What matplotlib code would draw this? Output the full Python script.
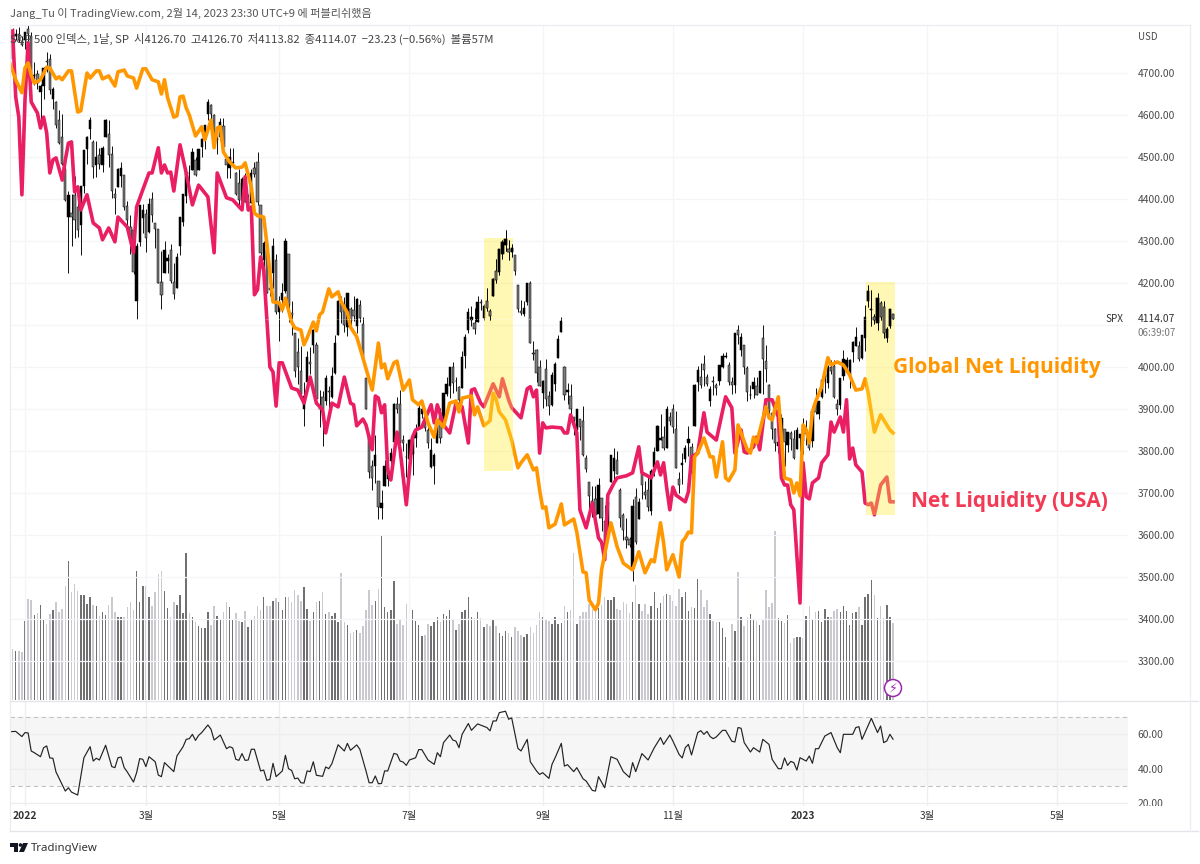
import matplotlib
matplotlib.use("Agg")
import matplotlib.pyplot as plt
from matplotlib.patches import Rectangle, Circle, Polygon
from matplotlib.transforms import Bbox, TransformedBbox
from matplotlib.ticker import FixedLocator, FixedFormatter

plt.rcParams['font.family'] = ['Noto Sans CJK KR', 'DejaVu Sans']

opens = [4733,4795,4788,4794,4775,
4778,4804,4788,4694,4698,4655,4670,4729,4734,4638,4632,4588,4548,4472,4357,4366,4409,4380,4337,4432,
4519,4566,4536,4482,4505,4481,4547,4554,4507,4412,4429,4455,4457,4384,4333,4325,4156,4298,4354,
4364,4322,4401,4343,4328,4202,4224,4253,4279,4203,4189,4289,4345,4407,4462,4470,4494,4470,4523,4541,4603,4624,4599,
4540,4548,4573,4495,4474,4486,4462,4437,4395,4449,4385,4390,4473,4489,4385,4255,4278,4187,4223,4254,
4130,4159,4181,4270,4128,4082,4035,3991,3901,3964,4013,4052,4052,3900,3928,3920,3943,3929,3985,4077,4152,
4149,4096,4137,4135,4097,4148,4102,3974,3838,3764,3765,3729,3665,3716,3734,3775,3821,3913,3913,3826,3786,
3782,3792,3832,3858,3889,3880,3851,3762,3764,3818,3884,3860,3936,3955,3999,3966,3953,3951,4027,4088,
4113,4105,4108,4155,4116,4156,4133,4170,4228,4225,4269,4291,4280,4274,4266,4195,4133,4126,4154,4199,4034,4041,4000,
3937,3995,3930,3909,3960,4022,4084,3999,3941,3932,3880,3849,3876,3871,3783,3727,3682,3686,3651,3687,3633,
3609,3726,3753,3778,3707,3647,3596,3590,3520,3690,3638,3746,3703,3707,3657,3762,3799,3825,3834,3808,3881,
3901,3853,3733,3767,3780,3818,3810,3860,3964,3977,4007,3977,3920,3966,3956,3966,4000,4024,4005,3965,3958,
4087,4041,4052,3997,3933,3947,3954,3939,4070,4015,3958,3891,3853,3811,3839,3853,3815,3844,3829,3805,3830,
3853,3840,3840,3823,3911,3889,3928,3977,3961,3999,4002,3911,3909,3979,4001,3982,4036,4050,4050,4021,
4070,4158,4136,4120,4105,4153,4144,4069,4097,4127]
highs = [4791,4807,4805,4809,4787,
4797,4819,4798,4726,4708,4673,4715,4749,4745,4666,4633,4611,4603,4495,4418,4411,4454,4429,4432,4516,
4550,4596,4540,4539,4521,4526,4590,4589,4527,4426,4473,4489,4457,4395,4363,4340,4295,4385,4389,
4375,4402,4417,4343,4329,4277,4299,4269,4292,4247,4272,4357,4413,4465,4481,4522,4501,4520,4546,4576,4637,4627,4603,
4549,4593,4593,4503,4521,4521,4464,4471,4453,4461,4411,4471,4489,4513,4386,4299,4278,4241,4308,4269,
4170,4200,4308,4270,4158,4082,4068,4050,3965,4039,4047,4090,4060,3946,3943,3981,3955,3999,4076,4159,4168,
4167,4177,4143,4169,4165,4160,4119,3974,3838,3779,3837,3729,3708,3779,3785,3808,3914,3928,3945,3837,3818,
3829,3832,3864,3910,3919,3880,3874,3832,3796,3864,3903,3939,3975,3999,4013,3975,3954,4039,4079,4141,
4145,4140,4168,4161,4151,4187,4138,4212,4258,4281,4302,4326,4303,4292,4266,4195,4159,4156,4200,4204,4062,4044,4016,
3970,4019,3942,3987,4011,4077,4120,4002,3961,3959,3880,3900,3876,3907,3790,3727,3716,3717,3736,3687,3671,
3699,3791,3807,3799,3711,3653,3641,3595,3685,3712,3689,3762,3729,3737,3757,3810,3862,3887,3859,3906,3893,
3911,3895,3750,3796,3814,3859,3818,3959,4002,4009,4029,3984,3955,3979,3962,4005,4034,4035,4012,3976,4080,
4101,4080,4053,4002,3957,3975,3977,3991,4101,4053,3959,3891,3854,3840,3889,3853,3846,3847,3849,3858,3840,
3879,3873,3840,3906,3950,3919,3970,3997,4004,4016,4016,3923,3973,4040,4024,4020,4061,4095,4063,4077,
4148,4196,4183,4127,4176,4157,4157,4095,4138,4127]
lows = [4733,4780,4778,4775,4765,
4758,4774,4699,4671,4663,4582,4638,4703,4651,4615,4568,4531,4480,4395,4223,4288,4306,4309,4266,4415,
4484,4544,4451,4452,4471,4465,4547,4477,4402,4365,4429,4429,4374,4328,4268,4221,4115,4287,4318,
4274,4320,4345,4284,4199,4139,4224,4224,4200,4162,4188,4267,4335,4391,4424,4470,4455,4469,4501,4518,4589,4589,4530,
4507,4540,4514,4450,4451,4477,4409,4381,4392,4392,4371,4390,4452,4385,4267,4200,4175,4170,4189,4125,
4063,4132,4177,4107,4077,3976,3959,3929,3859,3964,3983,4034,3912,3857,3811,3909,3875,3925,3984,4077,4104,
4083,4074,4098,4110,4080,4108,4017,3900,3735,3706,3723,3639,3637,3716,3717,3747,3821,3891,3820,3800,3738,
3751,3742,3810,3858,3878,3847,3807,3759,3722,3818,3818,3860,3930,3927,3939,3944,3911,3951,3998,4080,
4097,4079,4108,4135,4113,4133,4112,4170,4200,4220,4257,4277,4254,4262,4218,4130,4124,4122,4147,4057,4017,3965,3954,
3903,3907,3886,3906,3944,4022,4084,3921,3912,3888,3838,3840,3827,3789,3749,3648,3644,3623,3641,3610,3584,
3604,3726,3723,3745,3620,3588,3568,3571,3491,3578,3638,3686,3685,3656,3647,3741,3799,3825,3803,3808,3863,
3843,3759,3699,3722,3773,3787,3745,3860,3944,3949,3954,3955,3907,3933,3933,3956,3998,4021,3956,3936,3939,
4054,4026,3984,3918,3923,3925,3933,3939,3935,3965,3879,3828,3800,3795,3839,3765,3798,3802,3781,3805,3801,
3794,3815,3803,3809,3889,3877,3925,3938,3951,3984,3926,3886,3900,3970,3990,3949,4013,4049,4015,4020,
4038,4143,4097,4103,4088,4112,4070,4060,4092,4114]
closes = [4791,4786,4793,4779,4766,
4797,4794,4701,4696,4677,4670,4713,4726,4659,4663,4577,4533,4483,4398,4410,4356,4350,4327,4432,4516,
4547,4589,4477,4501,4484,4522,4587,4504,4419,4402,4471,4475,4380,4349,4305,4226,4289,4385,4374,
4306,4387,4363,4329,4201,4171,4278,4260,4204,4173,4262,4358,4412,4463,4461,4512,4456,4520,4543,4576,4632,4602,4530,
4546,4583,4525,4481,4500,4488,4413,4397,4447,4393,4392,4462,4459,4394,4272,4296,4175,4184,4288,4132,
4155,4175,4300,4147,4123,3991,4001,3935,3930,4024,4008,4089,3924,3901,3901,3974,3941,3979,4058,4158,4132,
4101,4177,4109,4121,4161,4116,4018,3901,3750,3735,3790,3667,3675,3765,3760,3796,3912,3900,3822,3819,3785,
3825,3831,3845,3903,3899,3854,3819,3802,3790,3863,3831,3937,3960,3999,3962,3967,3921,4024,4072,4130,
4119,4091,4155,4152,4145,4140,4122,4210,4207,4280,4297,4305,4274,4284,4228,4138,4129,4141,4199,4058,4031,3986,3955,
3967,3924,3908,3980,4006,4067,4110,3933,3946,3901,3873,3900,3856,3790,3758,3693,3655,3647,3719,3640,3586,
3678,3791,3783,3745,3640,3612,3589,3577,3670,3583,3678,3720,3695,3666,3753,3797,3859,3831,3807,3901,3872,
3856,3760,3720,3771,3807,3828,3749,3956,3993,3957,3992,3959,3947,3965,3950,4004,4027,4026,3964,3958,4080,
4077,4072,3999,3941,3934,3964,3934,3991,4020,3995,3896,3852,3818,3822,3878,3822,3845,3829,3783,3849,3840,
3824,3853,3808,3895,3892,3919,3970,3983,3999,3991,3929,3899,3973,4020,4017,4016,4060,4071,4018,4077,
4119,4180,4136,4111,4164,4118,4082,4090,4137,4114]
volumes = [54,51,49,49,48,79,101,100,85,87,95,81,76,86,90,98,88,91,114,139,108,116,109,105,105,96,103,95,94,84,88,85,95,103,88,83,83,83,93,98,90,129,98,114,114,103,94,108,126,129,109,92,83,98,95,105,87,147,87,83,78,74,72,72,88,75,94,84,81,88,98,93,81,87,79,78,89,73,80,84,94,90,103,94,94,99,102,98,90,103,103,98,110,105,99,113,91,79,88,98,99,108,86,88,84,87,78,127,78,75,67,68,70,67,74,90,110,95,99,111,164,93,88,90,119,76,80,75,96,78,90,79,75,64,65,76,74,78,83,78,86,84,90,
81,70,76,88,90,103,83,82,88,82,73,76,74,81,74,67,64,69,67,63,73,69,65,63,66,73,67,75,88,83,81,79,76,83,76,77,94,88,90,147,76,84,88,88,96,91,93,92,95,103,100,100,103,91,90,98,96,87,98,115,96,89,96,86,94,108,92,97,104,106,105,99,94,111,103,108,89,93,92,121,110,93,100,86,79,78,78,72,63,33,76,69,128,83,74,83,86,80,79,75,81,110,93,97,169,82,79,77,85,57,62,63,63,62,84,94,81,88,89,78,91,83,83,89,91,88,94,89,75,87,88,93,75,103,106,120,105,82,94,82,95,83,77]

orange_x = [0,2,4,5,6,7,8,10,12,13,15,16,17,19,20,22,23,25,26,28,29,30,32,34,35,37,38,40,41,43,44,46,48,49,50,51,53,54,55,56,57,58,60,62,63,65,66,67,68,69,71,73,75,76,78,79,80,82,83,84,85,87,88,89,91,92,94,95,96,98,99,100,101,103,104,106,107,109,110,112,114,117,119,120,121,122,124,125,127,129,130,132,133,135,137,138,140,142,144,145,146,149,150,151,153,155,156,157,158,160,162,164,165,167,169,170,171,172,173,174,176,178,179,182,183,185,186,187,189,190,191,194,196,198,200,201,203,205,207,208,210,211,212,214,216,217,218,219,220,221,222,224,226,227,228,230,231,232,234,235,238,239,240,241,244,245,246,248,249,250,252,253,254,255,256,257,258,259,260,262,264,265,267,269,271,273,275,276,277,279,281,284,285]
orange_y = [4726,4684,4653,4712,4724,4695,4676,4684,4714,4712,4686,4691,4684,4705,4705,4607,4610,4700,4688,4705,4705,4686,4693,4669,4703,4707,4693,4688,4664,4710,4710,4684,4679,4650,4684,4641,4595,4598,4643,4645,4617,4600,4550,4572,4541,4588,4522,4569,4572,4512,4488,4474,4476,4486,4429,4367,4360,4357,4295,4224,4155,4153,4136,4164,4107,4093,4088,4053,4069,4107,4086,4124,4131,4186,4167,4179,4155,4129,4095,4072,4022,3945,4057,3998,4007,3972,4010,4014,3945,3969,3922,3910,3919,3867,3833,3874,3857,3914,3919,3893,3926,3931,3886,3905,3860,3872,3938,3922,3893,3874,3826,3760,3772,3791,3755,3760,3707,3664,3667,3617,3626,3674,3624,3638,3607,3512,3510,3445,3422,3438,3517,3629,3572,3533,3522,3517,3560,3510,3541,3536,3629,3581,3517,3553,3500,3584,3593,3607,3605,3786,3795,3831,3786,3786,3738,3822,3736,3729,3755,3862,3803,3795,3833,3819,3905,3879,3874,3929,3833,3736,3731,3700,3724,3693,3862,3850,3819,3893,3917,3953,4022,4005,4012,4005,3981,3945,3948,3972,3938,3845,3886,3850,3843]

pink_x = [1,2,3,4,5,6,7,9,10,11,12,13,14,15,17,18,19,20,21,22,23,25,27,29,30,32,34,35,38,40,41,43,45,46,48,49,50,51,52,53,55,57,59,61,64,66,67,70,72,75,76,77,78,79,80,81,82,83,84,85,86,87,88,91,93,95,97,99,101,102,104,106,108,110,111,112,114,115,117,118,119,120,121,122,123,125,126,128,130,131,133,136,137,138,140,142,144,145,146,148,149,150,152,153,156,158,159,161,162,165,167,168,169,170,171,172,173,175,178,179,180,181,183,184,186,188,190,191,192,193,195,196,199,201,203,204,207,209,210,211,212,213,214,215,218,219,220,222,224,225,228,231,233,234,236,237,238,240,241,242,244,246,248,249,250,251,252,253,255,256,257,258,259,261,262,264,265,266,268,269,270,271,272,273,275,276,277,278,279,281,283,284,285]
pink_y = [4800,4643,4595,4410,4636,4772,4631,4605,4569,4595,4557,4462,4493,4498,4445,4493,4533,4536,4417,4429,4374,4410,4343,4331,4303,4331,4298,4357,4333,4272,4381,4422,4462,4462,4522,4462,4481,4462,4464,4419,4529,4462,4386,4433,4405,4272,4462,4403,4398,4374,4453,4374,4381,4172,4184,4262,4231,4117,4000,3988,3907,4010,4010,3950,3945,3914,3976,3914,3898,3843,3914,3905,3976,3914,3910,3860,3876,3862,3803,3931,3926,3891,3910,3755,3731,3845,3803,3672,3833,3850,3857,3910,3867,3910,3862,3843,3914,3910,3905,3819,3945,3948,3914,3905,3960,3929,3972,3922,3903,3879,3948,3953,3929,3945,3795,3867,3855,3857,3855,3843,3843,3886,3843,3660,3617,3676,3593,3583,3541,3695,3724,3736,3741,3748,3810,3748,3736,3774,3743,3772,3712,3660,3714,3695,3679,3703,3786,3795,3891,3845,3826,3929,3903,3795,3850,3798,3795,3810,3833,3803,3922,3922,3881,3736,3719,3719,3672,3660,3438,3772,3691,3686,3724,3736,3772,3791,3869,3845,3881,3845,3922,3781,3807,3767,3750,3676,3672,3676,3648,3719,3738,3679,3679]

rsi_x = [0,2,4,5,6,7,8,10,11,12,13,14,15,18,19,20,22,24,26,27,28,29,31,33,34,35,36,37,38,40,41,42,43,44,45,47,48,49,50,53,54,56,57,58,59,60,61,62,64,65,66,67,68,70,71,72,73,74,75,76,77,78,79,81,82,83,84,85,86,88,89,90,91,92,93,94,95,96,97,98,99,101,102,103,104,106,108,109,110,112,113,115,116,117,118,119,120,121,122,124,125,126,127,128,129,131,132,133,135,137,138,139,140,142,
143,144,145,146,148,149,151,154,155,156,157,158,160,161,162,164,165,167,168,170,171,172,174,175,176,178,179,180,182,183,185,186,188,189,190,192,194,196,198,200,201,202,204,206,208,210,211,213,214,216,217,218,219,220,222,223,224,225,226,227,228,230,231,233,234,235,236,237,239,240,242,243,245,246,248,249,250,251,252,253,254,255,257,258,259,260,261,263,265,267,268,269,272,273,274,275,278,280,281,282,283,284,285]
rsi_y = [61.3,61.5,58.5,60.8,60.6,50.2,49.2,46.9,52.1,53.1,46.2,46.0,38.1,27.1,29.0,26.5,24.8,46.3,52.7,44.4,46.0,45.0,53.5,41.2,40.6,46.3,46.7,40.6,38.1,32.3,37.7,45.8,45.4,41.2,46.9,44.0,36.3,35.4,43.5,38.3,47.3,52.7,56.9,57.3,59.8,56.3,59.2,60.8,65.2,62.7,56.5,57.9,59.4,51.5,52.7,51.9,45.4,44.8,48.7,44.8,45.0,51.2,51.2,38.7,39.2,33.3,33.8,43.1,35.4,38.7,47.7,40.0,39.0,34.2,34.6,31.9,31.7,38.7,38.3,44.0,36.2,35.6,41.0,40.0,42.9,53.8,50.2,54.6,50.6,53.7,51.2,38.7,31.9,31.9,35.8,31.3,31.5,38.7,38.7,48.8,48.3,44.4,43.8,41.9,45.0,46.3,51.0,51.0,45.0,42.5,49.2,46.9,55.0,59.4,
56.5,55.9,52.1,59.8,66.0,62.1,65.8,63.7,61.8,67.5,67.5,72.3,73.1,68.5,69.2,51.7,50.2,56.9,44.0,38.7,36.7,37.7,34.4,42.5,46.3,54.6,41.5,42.3,38.3,40.6,34.2,32.9,27.5,27.1,35.4,29.0,46.9,45.4,38.3,35.0,43.5,38.3,48.7,45.0,52.1,57.9,54.0,59.4,55.9,48.2,46.2,52.1,54.0,47.9,60.8,61.9,59.8,61.5,58.5,57.3,58.3,62.1,62.1,55.8,55.4,63.7,63.3,55.0,49.6,52.1,49.6,56.9,54.0,45.4,40.0,40.0,46.2,41.9,44.2,43.5,39.2,46.3,44.4,47.3,43.1,51.5,51.5,58.8,60.8,52.1,49.2,59.8,59.8,63.7,64.2,56.9,69.0,60.8,64.6,55.0,56.0,59.8,57.0]

price_ticks = [3300,3400,3500,3600,3700,3800,3900,4000,4100,4200,4300,4400,4500,4600,4700]
rsi_ticks = [20,40,60]
month_pos = [5,44,87,129,172,214,256,296,338]
month_labels = ['2022','3월','5월','7월','9월','11월','2023','3월','5월']
highlight_boxes = [(153,162.4,3753,4307),(276.2,285.6,3648,4203)]

assert len(opens)==len(highs)==len(lows)==len(closes)==len(volumes), (len(opens),len(highs),len(lows),len(closes),len(volumes))
assert len(orange_x)==len(orange_y) and len(pink_x)==len(pink_y) and len(rsi_x)==len(rsi_y), (len(orange_x),len(orange_y),len(pink_x),len(pink_y),len(rsi_x),len(rsi_y))

W, H = 1200, 864
fig = plt.figure(figsize=(12, 8.64), dpi=100)
def rect(l, t, r, b):
    return [l/W, (H-b)/H, (r-l)/W, (b-t)/H]

GRID = '#f4f5f8'
TXT = '#4a4a4a'
xlim = (0.16, 360.8)
idx = list(range(len(closes)))

# volume pane underlay
axv = fig.add_axes(rect(10, 25, 1128, 700))
axv.set_xlim(*xlim); axv.set_ylim(0, 675)
vcol = ['#707070' if c >= o else '#c9c9cf' for o, c in zip(opens, closes)]
axv.bar(idx, volumes, width=0.48, color=vcol, linewidth=0, zorder=2)
axv.set_xticks([]); axv.set_yticks([])
for s in axv.spines.values():
    s.set_visible(False)

# price pane
ax = fig.add_axes(rect(10, 25, 1128, 700))
ax.patch.set_alpha(0)
ax.set_xlim(*xlim); ax.set_ylim(3207.1, 4814.3)
ax.yaxis.set_major_locator(FixedLocator(price_ticks))
# the last-price tag hides the 4100.00 label in the reference
ax.yaxis.set_major_formatter(FixedFormatter(['' if p == 4100 else f'{p:.2f}' for p in price_ticks]))
ax.yaxis.tick_right()
ax.tick_params(axis='y', length=0, pad=7, labelsize=7.4, labelcolor=TXT)
ax.xaxis.set_major_locator(FixedLocator(month_pos))
ax.tick_params(axis='x', length=0, labelbottom=False)
ax.grid(True, color=GRID, linewidth=0.9, zorder=0)
ax.set_axisbelow(True)
for s in ax.spines.values():
    s.set_visible(False)

def draw_candles(which, z):
    ax.vlines(which, [lows[i] for i in which], [highs[i] for i in which],
              color='black', linewidth=0.65, zorder=z)
    ax.bar(which, [max(abs(closes[i]-opens[i]), 1) for i in which],
           bottom=[min(opens[i], closes[i]) for i in which], width=0.72,
           color=['black' if closes[i] >= opens[i] else '#7c7c7c' for i in which],
           edgecolor='black', linewidth=0.35, zorder=z+0.5)

draw_candles(idx, 3)

ax.plot(pink_x, pink_y, color='#e91e63', linewidth=2.6, solid_joinstyle='round', zorder=5)
ax.plot(orange_x, orange_y, color='#ff9800', linewidth=2.6, solid_joinstyle='round', zorder=6)

for x0, x1, y0, y1 in highlight_boxes:
    ax.add_patch(Rectangle((x0, y0), x1-x0, y1-y0, facecolor='#ffeb3b', alpha=0.38,
                           edgecolor='none', zorder=7))
    draw_candles([i for i in idx if x0 < i < x1], 8)
ax.plot([0.16, idx[-1]], [closes[-1], closes[-1]], color='white', linewidth=0.5,
        linestyle=(0, (1, 2)), zorder=7.5)

# RSI pane
axr = fig.add_axes(rect(10, 701, 1128, 806))
axr.set_xlim(*xlim); axr.set_ylim(18.5, 79)
axr.axhspan(30, 70, facecolor='#f6f6f6', edgecolor='none', zorder=0)
axr.axhline(70, color='#c2c2c2', linewidth=0.8, dashes=(4, 3), zorder=1)
axr.axhline(30, color='#c2c2c2', linewidth=0.8, dashes=(4, 3), zorder=1)
axr.plot(rsi_x, rsi_y, color='#222222', linewidth=0.85, zorder=3)
axr.yaxis.set_major_locator(FixedLocator(rsi_ticks))
axr.yaxis.set_major_formatter(FixedFormatter([f'{v:.2f}' for v in rsi_ticks]))
axr.yaxis.tick_right()
axr.tick_params(axis='y', length=0, pad=7, labelsize=7.4, labelcolor=TXT)
axr.xaxis.set_major_locator(FixedLocator(month_pos))
axr.xaxis.set_major_formatter(FixedFormatter(month_labels))
axr.tick_params(axis='x', length=0, pad=3.5, labelsize=7.4, labelcolor='#333333')
axr.grid(True, color='#eeeef1', linewidth=0.9, zorder=0)
axr.set_axisbelow(True)
for s in axr.spines.values():
    s.set_visible(False)
for t in axr.get_xticklabels():
    if t.get_text() in ('2022', '2023'):
        t.set_fontweight('bold')
clip = TransformedBbox(Bbox([[0, (H-806)/H], [1, 1]]), fig.transFigure)
for t in axr.get_yticklabels():
    t.set_clip_box(clip); t.set_clip_on(True)

# overlay in figure pixels: frame, texts, logo
ov = fig.add_axes([0, 0, 1, 1], zorder=10)
ov.set_xlim(0, W); ov.set_ylim(H, 0); ov.axis('off'); ov.patch.set_alpha(0)
FR = '#e3e4ea'
ov.plot([10, 10], [25, 831], color='#ececf2', lw=0.9)
ov.plot([10, 1190], [25, 25], color='#ececf2', lw=0.9)
ov.plot([10, 1198], [700.5, 700.5], color=FR, lw=0.9)
ov.plot([10, 1198], [831, 831], color=FR, lw=0.9)
ov.plot([1190, 1190], [25, 831], color='#ececf2', lw=0.9)

ov.text(10, 13, 'Jang_Tu 이 TradingView.com, 2월 14, 2023 23:30 UTC+9 에 퍼블리쉬했음',
        fontsize=8.0, color='#555555', va='center', ha='left')
ov.text(10, 39, 'S&P 500 인덱스, 1날, SP  시4126.70  고4126.70  저4113.82  종4114.07  −23.23 (−0.56%)  볼륨57M',
        fontsize=8.2, color='#444444', va='center', ha='left')
ov.text(1138, 37, 'USD', fontsize=7, color=TXT, va='center', ha='left')
ov.text(1105, 319.5, 'SPX', fontsize=7.2, color='#333333', va='center', ha='left')
ov.text(1138, 319.5, '4114.07', fontsize=7.4, color='#333333', va='center', ha='left')
ov.text(1138, 332.5, '06:39:07', fontsize=7, color='#777777', va='center', ha='left')
ov.text(893, 368, 'Global Net Liquidity', fontsize=15, fontweight='bold',
        color='#ff9800', va='center', ha='left', family=['Open Sans', 'DejaVu Sans'])
ov.text(911, 501, 'Net Liquidity (USA)', fontsize=15, fontweight='bold',
        color='#f23a55', va='center', ha='left', family=['Open Sans', 'DejaVu Sans'])

ov.add_patch(Circle((893, 688), 8.5, facecolor='white', edgecolor='#9c27b0', linewidth=1.1))
ov.text(893, 688, '\u26a1', fontsize=9, color='#9c27b0', ha='center', va='center',
        family=['DejaVu Sans'])

# TradingView footer
ov.add_patch(Polygon([(10, 843), (18, 843), (18, 852), (14, 852), (14, 846.5), (10, 846.5)],
                     facecolor='#131722', edgecolor='none'))
ov.add_patch(Circle((20.5, 845), 1.8, facecolor='#131722', edgecolor='none'))
ov.add_patch(Polygon([(23, 843), (28, 843), (24, 852), (19, 852)], facecolor='#131722', edgecolor='none'))
ov.text(31, 848, 'TradingView', fontsize=8.2, color='#333333', va='center', ha='left',
        family=['Noto Sans', 'DejaVu Sans'])

fig.savefig('out.png', dpi=100)
